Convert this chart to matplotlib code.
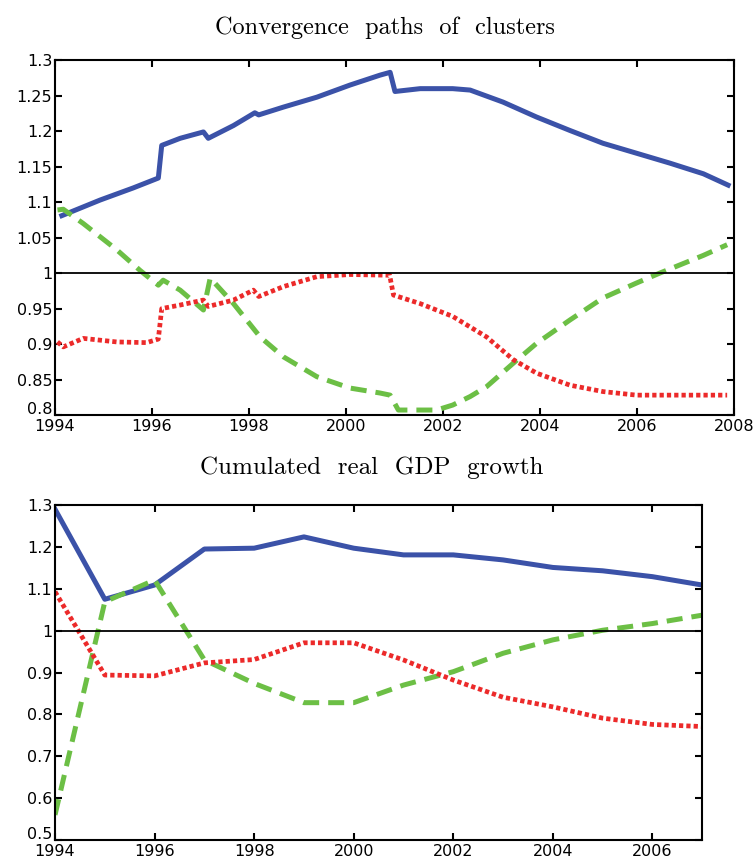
import matplotlib
matplotlib.use("Agg")
import matplotlib.pyplot as plt
from matplotlib.ticker import FormatStrFormatter
from matplotlib.transforms import ScaledTranslation

# top panel: convergence paths
conv_blue_x = [1994.14, 1994.93, 1995.61, 1996.13, 1996.2, 1996.58, 1997.06, 1997.16, 1997.68,
               1998.12, 1998.2, 1998.71, 1999.4, 2000.08, 2000.7, 2000.91, 2001.01, 2001.53,
               2002.2, 2002.56, 2003.24, 2003.93, 2004.62, 2005.3, 2005.99, 2006.68, 2007.37, 2007.88]
conv_blue_y = [1.081, 1.103, 1.120, 1.134, 1.180, 1.190, 1.199, 1.190, 1.208,
               1.226, 1.223, 1.234, 1.248, 1.265, 1.279, 1.283, 1.256, 1.260,
               1.260, 1.258, 1.241, 1.220, 1.201, 1.183, 1.169, 1.155, 1.140, 1.124]

conv_red_x = [1994.05, 1994.17, 1994.58, 1995.27, 1995.89, 1996.13, 1996.2, 1996.58, 1997.06,
              1997.16, 1997.68, 1998.09, 1998.2, 1998.71, 1999.4, 2000.08, 2000.9, 2000.98,
              2001.53, 2002.2, 2002.9, 2003.45, 2003.93, 2004.62, 2005.3, 2005.99, 2007.86]
conv_red_y = [0.903, 0.896, 0.908, 0.903, 0.902, 0.907, 0.950, 0.955, 0.962,
              0.953, 0.962, 0.976, 0.967, 0.981, 0.995, 0.998, 0.997, 0.969,
              0.957, 0.939, 0.910, 0.878, 0.859, 0.842, 0.833, 0.828, 0.828]

conv_green_x = [1994.05, 1994.17, 1994.58, 1995.27, 1995.75, 1996.13, 1996.23, 1996.58, 1997.06,
                1997.2, 1997.68, 1998.23, 1998.71, 1999.4, 2000.08, 2000.7, 2000.91, 2001.08,
                2001.87, 2002.2, 2002.56, 2002.9, 2003.45, 2003.93, 2004.62, 2005.3, 2005.99,
                2006.47, 2007.37, 2007.86]
conv_green_y = [1.089, 1.090, 1.070, 1.033, 1.004, 0.983, 0.990, 0.976, 0.948,
                0.993, 0.957, 0.910, 0.882, 0.854, 0.838, 0.831, 0.828, 0.807,
                0.807, 0.814, 0.826, 0.840, 0.873, 0.901, 0.934, 0.965, 0.986,
                1.000, 1.025, 1.040]

# bottom panel: cumulated real GDP growth, yearly
years = list(range(1994, 2008))
gdp_blue = [1.29, 1.075, 1.109, 1.195, 1.197, 1.224, 1.197, 1.181, 1.181, 1.169, 1.151, 1.143, 1.129, 1.109]
gdp_red = [1.093, 0.894, 0.892, 0.923, 0.931, 0.971, 0.971, 0.930, 0.882, 0.841, 0.818, 0.791, 0.776, 0.771]
gdp_green = [0.56, 1.069, 1.121, 0.930, 0.874, 0.828, 0.828, 0.870, 0.902, 0.946, 0.978, 1.001, 1.017, 1.037]

BLUE = "#3b52a8"
RED = "#ec2a2a"
GREEN = "#6cbf45"

plt.rcParams["font.family"] = ["DejaVu Sans"]

fig = plt.figure(figsize=(7.56, 8.61), dpi=100)
ax1 = fig.add_axes([0.0728, 0.518, 0.898, 0.412])
ax2 = fig.add_axes([0.0728, 0.0244, 0.856, 0.389])


def style(ax):
    for s in ax.spines.values():
        s.set_linewidth(1.5)
    ax.tick_params(direction="in", top=True, right=True, length=5, width=1.5,
                   labelsize=11.5, pad=2)
    ax.tick_params(axis="x", pad=3)
    ax.yaxis.set_major_formatter(FormatStrFormatter("%g"))


ax1.plot(conv_blue_x, conv_blue_y, color=BLUE, lw=3.6)
ax1.plot(conv_green_x, conv_green_y, color=GREEN, lw=3.6, ls=(0, (3.2, 1.8)))
ax1.plot(conv_red_x, conv_red_y, color=RED, lw=3.4, ls=(0, (0.9, 0.65)))
ax1.axhline(1, color="black", lw=1.3)
ax1.set_xlim(1994, 2008)
ax1.set_ylim(0.8, 1.3)
ax1.set_xticks(range(1994, 2009, 2))
ax1.set_yticks([0.8, 0.85, 0.9, 0.95, 1, 1.05, 1.1, 1.15, 1.2, 1.25, 1.3])
style(ax1)

ax2.plot(years, gdp_blue, color=BLUE, lw=3.6)
ax2.plot(years, gdp_green, color=GREEN, lw=3.6, ls=(0, (3.2, 1.8)))
ax2.plot(years, gdp_red, color=RED, lw=3.4, ls=(0, (0.9, 0.65)))
ax2.axhline(1, color="black", lw=1.3)
ax2.set_xlim(1994, 2007)
ax2.set_ylim(0.5, 1.3)
ax2.set_xticks(range(1994, 2007, 2))
ax2.set_yticks([0.5, 0.6, 0.7, 0.8, 0.9, 1, 1.1, 1.2, 1.3])
style(ax2)

# lowest y label sits a little above the corner, as in the original
for ax in (ax1, ax2):
    lab = ax.get_yticklabels()[0]
    lab.set_transform(lab.get_transform() + ScaledTranslation(0, 5 / 72, fig.dpi_scale_trans))

fig.text(0.509, 0.968, "Convergence  paths  of  clusters", ha="center", va="center",
         family="cmr10", fontsize=17.5)
fig.text(0.492, 0.457, "Cumulated  real  GDP  growth", ha="center", va="center",
         family="cmr10", fontsize=18)

fig.savefig("out.png", dpi=100)
